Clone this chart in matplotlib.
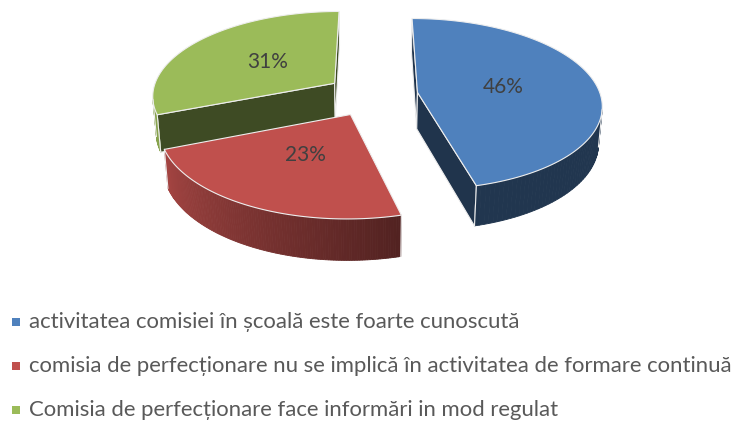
import numpy as np
import matplotlib.pyplot as plt
from matplotlib.patches import Polygon
from matplotlib.colors import to_rgb

labels = [
    "activitatea comisiei în școală este foarte cunoscută",
    "comisia de perfecționare nu se implică în activitatea de formare continuă",
    "Comisia de perfecționare face informări in mod regulat",
]
values = [46, 23, 31]
colors = ["#4F81BD", "#C0504D", "#9BBB59"]

# geometry of the fake 3D pie (pixel units)
CX, CY = 372, 95
R = 183
H = 42
EXPLODE = 46
ELEV = np.radians(27.5)
D = 1200.0
EDGE = "#EEEEEE"

cam = np.array([0.0, -D * np.cos(ELEV), D * np.sin(ELEV)])


def proj(u, v, z):
    u = np.asarray(u, float)
    v = np.asarray(v, float)
    z = np.asarray(z, float)
    depth = D + v * np.cos(ELEV) - z * np.sin(ELEV)
    s = D / depth
    x = CX + u * s
    y = CY - (v * np.sin(ELEV) + z * np.cos(ELEV)) * s
    return x, y


def shade(c, f):
    return tuple(np.clip(np.array(to_rgb(c)) * f, 0, 1))


def wall_factor(t):
    return 0.42 + 0.45 * np.clip((t - 165) / 85, 0, 1)


fig = plt.figure(figsize=(7.43, 4.21), dpi=100)
ax = fig.add_axes([0, 0, 1, 1])
ax.set_xlim(0, 743)
ax.set_ylim(421, 0)
ax.axis("off")

bounds = np.concatenate([[0], np.cumsum(values)]) / sum(values) * 360
slices = []
for i in range(len(values)):
    t0, t1 = bounds[i], bounds[i + 1]
    m = np.radians((t0 + t1) / 2)
    slices.append((i, t0, t1, EXPLODE * np.sin(m), EXPLODE * np.cos(m)))

# far slices first
slices.sort(key=lambda s: -s[4])

for i, t0, t1, ou, ov in slices:
    col = colors[i]
    t = np.linspace(t0, t1, 120)
    rad = np.radians(t)
    au = ou + R * np.sin(rad)
    av = ov + R * np.cos(rad)

    # radial faces
    for ang, n in [(t0, (-np.cos(np.radians(t0)), np.sin(np.radians(t0)))),
                   (t1, (np.cos(np.radians(t1)), -np.sin(np.radians(t1))))]:
        a = np.radians(ang)
        ru, rv = ou + R * np.sin(a), ov + R * np.cos(a)
        mid = np.array([(ou + ru) / 2, (ov + rv) / 2, -H / 2])
        if n[0] * (cam[0] - mid[0]) + n[1] * (cam[1] - mid[1]) > 0:
            xs, ys = proj([ou, ru, ru, ou], [ov, rv, rv, ov], [0, 0, -H, -H])
            ax.add_patch(Polygon(np.column_stack([xs, ys]), closed=True,
                                 facecolor=shade(col, 0.4), edgecolor=EDGE, lw=0.8))

    # outer curved wall
    vis_idx = []
    for k in range(len(t) - 1):
        tm = np.radians((t[k] + t[k + 1]) / 2)
        pu, pv = ou + R * np.sin(tm), ov + R * np.cos(tm)
        if np.sin(tm) * (cam[0] - pu) + np.cos(tm) * (cam[1] - pv) > 0:
            vis_idx.append(k)
            xs, ys = proj([au[k], au[k + 1], au[k + 1], au[k]],
                          [av[k], av[k + 1], av[k + 1], av[k]],
                          [0, 0, -H, -H])
            fc = shade(col, wall_factor((t[k] + t[k + 1]) / 2))
            ax.add_patch(Polygon(np.column_stack([xs, ys]), closed=True,
                                 facecolor=fc, edgecolor=fc, lw=0.6))
    if vis_idx:
        for k in (vis_idx[0], vis_idx[-1] + 1):
            xs, ys = proj([au[k], au[k]], [av[k], av[k]], [0, -H])
            ax.plot(xs, ys, color=EDGE, lw=0.8)

    # top face
    xs, ys = proj(np.concatenate([[ou], au]), np.concatenate([[ov], av]),
                  np.zeros(len(t) + 1))
    ax.add_patch(Polygon(np.column_stack([xs, ys]), closed=True,
                         facecolor=col, edgecolor=EDGE, lw=0.8))

    # percentage label
    m = np.radians((t0 + t1) / 2)
    lx, ly = proj(ou + 0.48 * R * np.sin(m), ov + 0.48 * R * np.cos(m), 0)
    ax.text(lx, ly, f"{values[i]}%", ha="center", va="center",
            fontsize=15, color="#404040", family=["Lato", "DejaVu Sans"])

# legend
rows_y = [322, 366, 410]
for lab, col, y in zip(labels, colors, rows_y):
    ax.scatter([16], [y], marker="s", s=30, color=col, linewidths=0)
    ax.text(29, y, lab, ha="left", va="center", fontsize=15.9,
            color="#595959", family=["Lato", "DejaVu Sans"])

fig.savefig("out.png", dpi=100)
